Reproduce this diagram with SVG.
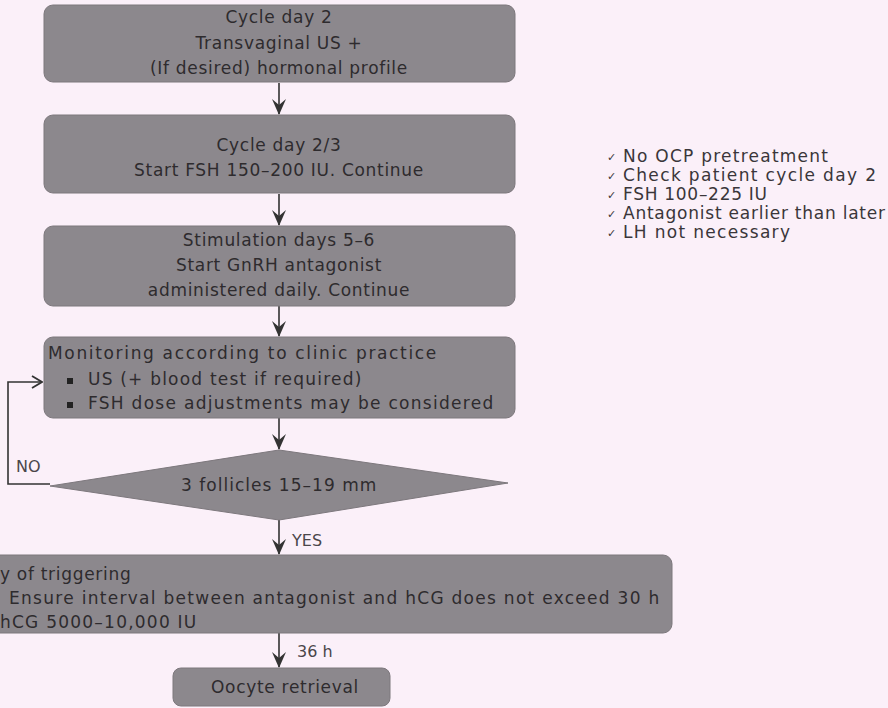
<svg xmlns="http://www.w3.org/2000/svg" width="888" height="708" viewBox="0 0 888 708">
<defs>
<style>
.bg{fill:#fbf0f9}
.box{fill:#8c888d;stroke:#7d787d;stroke-width:1}
.t{font-family:"DejaVu Sans",sans-serif;font-size:17px;letter-spacing:0.7px;fill:#2e2b2e}
.c{text-anchor:middle}
.lbl{font-family:"DejaVu Sans",sans-serif;font-size:16px;fill:#4a464a}
.side{font-family:"DejaVu Sans",sans-serif;font-size:17px;fill:#3a363a}
.ck{font-family:"DejaVu Sans",sans-serif;font-size:11px;fill:#3a363a}
.ln{stroke:#333;stroke-width:1.6;fill:none}
</style>
<marker id="ah2" viewBox="0 0 16 14" refX="15" refY="7" markerWidth="16" markerHeight="14" orient="auto" markerUnits="userSpaceOnUse">
<path d="M0,0 L16,7 L0,14 L6,7 Z" fill="#333"/>
</marker>
<marker id="open" viewBox="0 0 12 14" refX="11" refY="7" markerWidth="12" markerHeight="14" orient="auto" markerUnits="userSpaceOnUse">
<path d="M1,1 L11,7 L1,13" fill="none" stroke="#333" stroke-width="1.8"/>
</marker>
</defs>
<rect class="bg" x="0" y="0" width="888" height="708"/>
<g id="connectors">
<line class="ln" x1="279" y1="83" x2="279" y2="114" marker-end="url(#ah2)"/>
<line class="ln" x1="279" y1="194" x2="279" y2="225" marker-end="url(#ah2)"/>
<line class="ln" x1="279" y1="306" x2="279" y2="336" marker-end="url(#ah2)"/>
<line class="ln" x1="279" y1="418" x2="279" y2="449" marker-end="url(#ah2)"/>
<line class="ln" x1="279" y1="520" x2="279" y2="554" marker-end="url(#ah2)"/>
<line class="ln" x1="279" y1="633" x2="279" y2="667" marker-end="url(#ah2)"/>
<polyline class="ln" points="50,484 8,484 8,382 42,382" marker-end="url(#open)"/>
<text class="lbl" x="16" y="472">NO</text>
<text class="lbl" x="292" y="546">YES</text>
<text class="lbl" x="297" y="657">36 h</text>
</g>
<g id="n1">
<rect class="box" x="44" y="5" width="471" height="77" rx="9"/>
<text class="t c" x="279" y="23">Cycle day 2</text>
<text class="t c" x="279" y="49">Transvaginal US +</text>
<text class="t c" x="279" y="74">(If desired) hormonal profile</text>
</g>
<g id="n2">
<rect class="box" x="44" y="115" width="471" height="78" rx="9"/>
<text class="t c" x="279" y="151">Cycle day 2/3</text>
<text class="t c" x="279" y="176">Start FSH 150–200 IU. Continue</text>
</g>
<g id="n3">
<rect class="box" x="44" y="226" width="471" height="80" rx="9"/>
<text class="t c" x="279" y="246">Stimulation days 5–6</text>
<text class="t c" x="279" y="271">Start GnRH antagonist</text>
<text class="t c" x="279" y="296">administered daily. Continue</text>
</g>
<g id="n4">
<rect class="box" x="44" y="337" width="471" height="81" rx="9"/>
<text class="t" x="48" y="359" textLength="389">Monitoring according to clinic practice</text>
<rect x="67" y="378" width="6" height="6" fill="#222"/>
<text class="t" x="88" y="385" textLength="274">US (+ blood test if required)</text>
<rect x="67" y="402" width="6" height="6" fill="#222"/>
<text class="t" x="88" y="409" textLength="406">FSH dose adjustments may be considered</text>
</g>
<g id="n5">
<polygon class="box" points="50,486 279,450 508,483 279,520"/>
<text class="t c" x="279" y="491" textLength="196">3 follicles 15–19 mm</text>
</g>
<g id="n6">
<rect class="box" x="-20" y="555" width="692" height="78" rx="9"/>
<text class="t" x="0" y="580">y of triggering</text>
<text class="t" x="9" y="604" textLength="651">Ensure interval between antagonist and hCG does not exceed 30 h</text>
<text class="t" x="0" y="628" textLength="197">hCG 5000–10,000 IU</text>
</g>
<g id="n7">
<rect class="box" x="173" y="668" width="217" height="38" rx="8"/>
<text class="t c" x="285" y="693">Oocyte retrieval</text>
</g>
<g id="notes">
<text class="ck" x="607" y="161">✓</text>
<text class="side" x="623" y="162" textLength="205">No OCP pretreatment</text>
<text class="ck" x="607" y="180">✓</text>
<text class="side" x="623" y="181" textLength="253">Check patient cycle day 2</text>
<text class="ck" x="607" y="199">✓</text>
<text class="side" x="623" y="200" textLength="144">FSH 100–225 IU</text>
<text class="ck" x="607" y="218">✓</text>
<text class="side" x="623" y="219" textLength="262">Antagonist earlier than later</text>
<text class="ck" x="607" y="237">✓</text>
<text class="side" x="623" y="238" textLength="167">LH not necessary</text>
</g>
</svg>
